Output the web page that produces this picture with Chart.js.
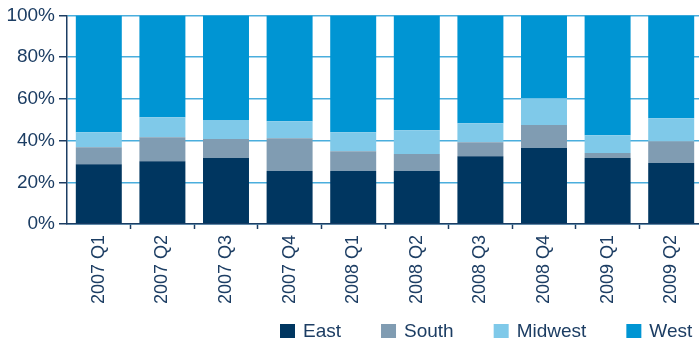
<!DOCTYPE html>
<html>
<head>
<meta charset="utf-8">
<script src="https://cdn.jsdelivr.net/npm/chart.js@4"></script>
<style>
  html, body { margin: 0; padding: 0; background: #ffffff; overflow: hidden; }
  #wrap { width: 706px; height: 341px; }
</style>
</head>
<body>
<div id="wrap"><canvas id="chart" width="706" height="341"></canvas></div>
<script>
// Quarterly share by region (percent of total)
const quarters = ['2007 Q1', '2007 Q2', '2007 Q3', '2007 Q4', '2008 Q1', '2008 Q2', '2008 Q3', '2008 Q4', '2009 Q1', '2009 Q2'];
const east    = [28.7, 30.1, 31.6, 25.4, 25.4, 25.4, 32.5, 36.4, 31.6, 29.2];
const south   = [ 8.1, 11.5,  9.1, 15.7,  9.5,  8.1,  6.7, 11.0,  2.4, 10.5];
const midwest = [ 7.2,  9.6,  9.1,  8.2,  9.1, 11.5,  9.1, 12.9,  8.6, 11.0];
const west    = [56.0, 48.8, 50.2, 50.7, 56.0, 55.0, 51.7, 39.7, 57.4, 49.3];
const yTicks  = [0, 20, 40, 60, 80, 100];

const NAVY = '#1c3d63';
const GRID = '#4aaedd';
const FONT = "'Liberation Sans', Arial, Helvetica, sans-serif";

// Legend drawn as a single right-hand row under the axis labels
const bottomLegend = {
  id: 'bottomLegend',
  afterDraw(chart) {
    const ctx = chart.ctx;
    const box = 15, boxH = 14, gap = 8, spacing = 40;
    const startX = 280, midY = 331;
    ctx.save();
    ctx.font = '19px ' + FONT;
    ctx.textBaseline = 'middle';
    ctx.textAlign = 'left';
    let x = startX;
    chart.data.datasets.forEach(ds => {
      ctx.fillStyle = ds.backgroundColor;
      ctx.fillRect(x, midY - boxH / 2, box, boxH);
      ctx.fillStyle = NAVY;
      ctx.fillText(ds.label, x + box + gap, midY + 1);
      x += box + gap + ctx.measureText(ds.label).width + spacing;
    });
    ctx.restore();
  }
};

new Chart(document.getElementById('chart'), {
  type: 'bar',
  data: {
    labels: quarters,
    datasets: [
      { label: 'East',    data: east,    backgroundColor: '#003660' },
      { label: 'South',   data: south,   backgroundColor: '#809cb2' },
      { label: 'Midwest', data: midwest, backgroundColor: '#7fc9e9' },
      { label: 'West',    data: west,    backgroundColor: '#0095d3' }
    ]
  },
  options: {
    responsive: false,
    animation: false,
    layout: { padding: { top: 15, right: 3, bottom: 0, left: 0 } },
    datasets: { bar: { barPercentage: 0.723, categoryPercentage: 1.0 } },
    plugins: {
      legend: { display: false },
      tooltip: { enabled: false }
    },
    scales: {
      x: {
        stacked: true,
        afterFit(scale) { scale.height = 117; },
        border: { display: true, color: NAVY, width: 1.5 },
        grid: {
          offset: true,
          drawOnChartArea: false,
          drawTicks: true,
          tickLength: 5,
          tickWidth: 1.5,
          tickColor: ctx => (ctx.index === 0 ? 'rgba(0,0,0,0)' : NAVY)
        },
        ticks: {
          color: NAVY,
          font: { family: FONT, size: 18 },
          maxRotation: 90,
          minRotation: 90,
          padding: 6,
          autoSkip: false
        }
      },
      y: {
        stacked: true,
        min: 0,
        max: 100,
        afterFit(scale) { scale.width = 67; },
        afterBuildTicks(scale) { scale.ticks = yTicks.map(v => ({ value: v })); },
        border: { display: true, color: NAVY, width: 1.5 },
        grid: {
          color: GRID,
          lineWidth: 1.5,
          tickLength: 8,
          tickWidth: 1.5,
          tickColor: NAVY
        },
        ticks: {
          color: NAVY,
          font: { family: FONT, size: 19 },
          padding: 4,
          callback: v => v + '%'
        }
      }
    }
  },
  plugins: [bottomLegend]
});
</script>
</body>
</html>
